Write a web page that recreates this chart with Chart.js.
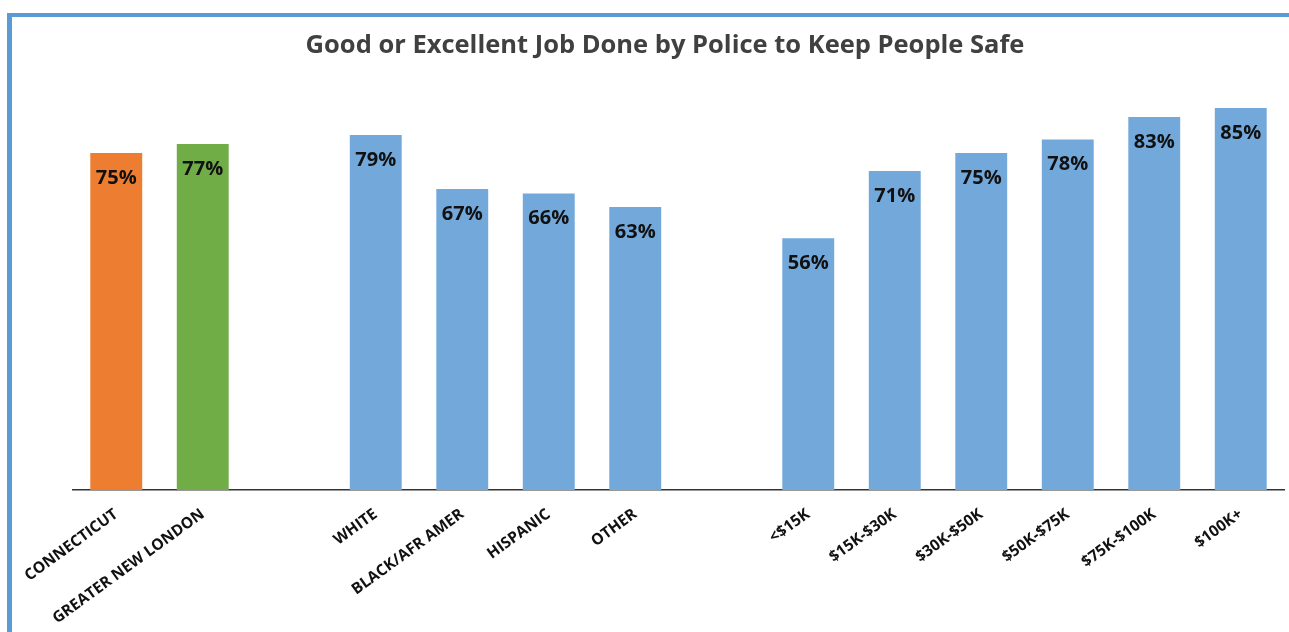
<!DOCTYPE html>
<html>
<head>
<meta charset="utf-8">
<script src="https://cdn.jsdelivr.net/npm/chart.js@4/dist/chart.umd.min.js"></script>
<style>
    html, body { margin: 0; padding: 0; background: #fff; width: 1289px; height: 632px; overflow: hidden; }
    .frame { position: absolute; left: 7px; top: 13px; width: 1300px; height: 640px;
             border-left: 5px solid #5b9bd5; border-top: 4px solid #5b9bd5; }
    .wrap { position: absolute; left: 0; top: 0; width: 1330px; height: 632px; }
</style>
</head>
<body>
<div class="frame"></div>
<div class="wrap"><canvas id="chart"></canvas></div>
<script>
// категории (пустые строки - промежутки между группами)
const categories = ['CONNECTICUT', 'GREATER NEW LONDON', '', 'WHITE', 'BLACK/AFR AMER', 'HISPANIC', 'OTHER', '',
    '<$15K', '$15K-$30K', '$30K-$50K', '$50K-$75K', '$75K-$100K', '$100K+'];
const values = [75, 77, null, 79, 67, 66, 63, null, 56, 71, 75, 78, 83, 85];
const groups = ['state', 'region', '', 'race', 'race', 'race', 'race', '', 'income', 'income', 'income', 'income', 'income', 'income'];
const titleText = 'Good or Excellent Job Done by Police to Keep People Safe';

const groupColors = {state: '#ed7d31', region: '#70ad47', race: '#72a8da', income: '#72a8da', '': '#72a8da'};

// подписи значений внутри столбцов
const valueLabels = {
    id: 'valueLabels',
    afterDatasetsDraw(chart) {
        const ctx = chart.ctx;
        const meta = chart.getDatasetMeta(0);
        ctx.save();
        ctx.font = 'bold 20px "Open Sans"';
        ctx.fillStyle = '#111';
        ctx.textAlign = 'center';
        ctx.textBaseline = 'middle';
        meta.data.forEach((bar, i) => {
            if (values[i] == null) return;
            ctx.fillText(values[i] + '%', bar.x, bar.y + 25);
        });
        ctx.restore();
    }
};

new Chart(document.getElementById('chart'), {
    type: 'bar',
    data: {
        labels: categories,
        datasets: [{
            data: values,
            backgroundColor: groups.map(g => groupColors[g]),
            categoryPercentage: 1,
            barPercentage: 0.6
        }]
    },
    options: {
        responsive: true,
        maintainAspectRatio: false,
        animation: false,
        layout: {padding: {left: 46, right: 46, top: 30, bottom: 0}},
        plugins: {
            legend: {display: false},
            tooltip: {enabled: false},
            title: {
                display: true,
                text: titleText,
                color: '#404040',
                font: {family: '"Open Sans"', size: 25.5, weight: 'bold', lineHeight: 1.2},
                padding: {top: 0, bottom: 25}
            }
        },
        scales: {
            x: {
                grid: {display: false, drawTicks: false},
                border: {display: true, color: '#333', width: 1.5},
                ticks: {
                    color: '#111',
                    font: {family: '"Open Sans"', size: 15.5, weight: 'bold'},
                    minRotation: 36,
                    maxRotation: 36,
                    autoSkip: false,
                    padding: 15
                },
                afterFit(scale) { scale.height = 142; }
            },
            y: {
                min: 0,
                max: 90,
                grid: {display: false},
                border: {display: false},
                ticks: {display: false},
                // пустая ось слева, чтобы заголовок стоял по центру как в оригинале
                afterFit(scale) { scale.width = 27; }
            }
        }
    },
    plugins: [valueLabels]
});
</script>
</body>
</html>
